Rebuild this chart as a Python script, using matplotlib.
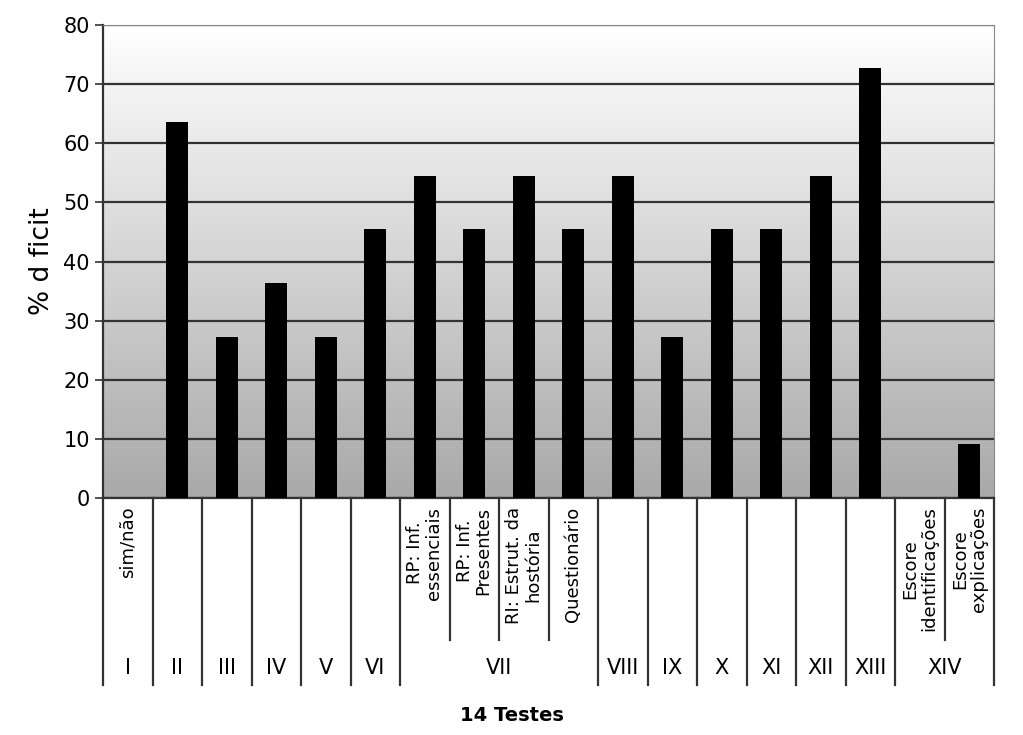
import numpy as np
import matplotlib
matplotlib.use("Agg")
import matplotlib.pyplot as plt

# data
labels = ["sim/não", "", "", "", "", "", "RP: Inf.\nessenciais", "RP: Inf.\nPresentes",
          "RI: Estrut. da\nhostória", "Questionário", "", "", "", "", "", "",
          "Escore\nidentificações", "Escore\nexplicações"]
values = [0, 63.6, 27.3, 36.4, 27.3, 45.5, 54.5, 45.5, 54.5, 45.5,
          54.5, 27.3, 45.5, 45.5, 54.5, 72.7, 0, 9.1]
groups = ["I", "II", "III", "IV", "V", "VI", "VII", "VIII", "IX", "X",
          "XI", "XII", "XIII", "XIV"]
group_sizes = [1, 1, 1, 1, 1, 1, 4, 1, 1, 1, 1, 1, 1, 2]

plt.rcParams['font.family'] = ['DejaVu Sans']

fig = plt.figure(figsize=(10.23, 7.35), dpi=100)
ax = fig.add_axes([0.1007, 0.3224, 0.871, 0.6435])

n = len(values)
x = np.arange(n)
ax.set_xlim(-0.5, n - 0.5)
ax.set_ylim(0, 80)

# gradient background, white at top to grey at bottom
cmap = matplotlib.colors.LinearSegmentedColormap.from_list("g", ["#a9a9a9", "#ffffff"])
ax.imshow(np.linspace(0, 1, 256).reshape(-1, 1), aspect='auto', cmap=cmap,
          extent=[-0.5, n - 0.5, 0, 80], origin='lower', zorder=0)

ax.set_yticks(np.arange(0, 81, 10))
ax.yaxis.grid(True, color='#333333', linewidth=1.6, zorder=1)
ax.set_axisbelow(True)
ax.bar(x, values, width=0.45, color='black', zorder=3)

ax.tick_params(axis='y', labelsize=15, length=6, width=1.2, color='#333333')
ax.set_xticks([])
ax.spines['left'].set_color('#333333')
ax.spines['left'].set_linewidth(1.6)
ax.spines['bottom'].set_color('#333333')
ax.spines['bottom'].set_linewidth(1.6)
ax.spines['top'].set_color('#888888')
ax.spines['right'].set_color('#888888')
ax.set_ylabel("% d ficit", fontsize=19, labelpad=6)

trans = ax.get_xaxis_transform()
full_bottom = -0.395
inner_bottom = -0.300

# category labels
for i, lab in enumerate(labels):
    if lab:
        ax.text(i, -0.018, lab, transform=trans, rotation=90, ha='center', va='top',
                multialignment='center', fontsize=13, linespacing=1.05)

# group separators and labels
start = 0
bounds = [-0.5]
for g, size in zip(groups, group_sizes):
    end = start + size
    bounds.append(end - 0.5)
    ax.text((start + end - 1) / 2, -0.36, g, transform=trans, ha='center', va='center',
            fontsize=15)
    for k in range(start + 1, end):
        ax.plot([k - 0.5, k - 0.5], [0, inner_bottom], transform=trans, color='#333333',
                linewidth=1.6, clip_on=False)
    start = end
for b in bounds:
    ax.plot([b, b], [0, full_bottom], transform=trans, color='#333333',
            linewidth=1.6, clip_on=False)

fig.text(0.5, 0.027, "14 Testes", ha='center', va='center', fontsize=14, fontweight='bold')

fig.savefig("out.png", dpi=100)
